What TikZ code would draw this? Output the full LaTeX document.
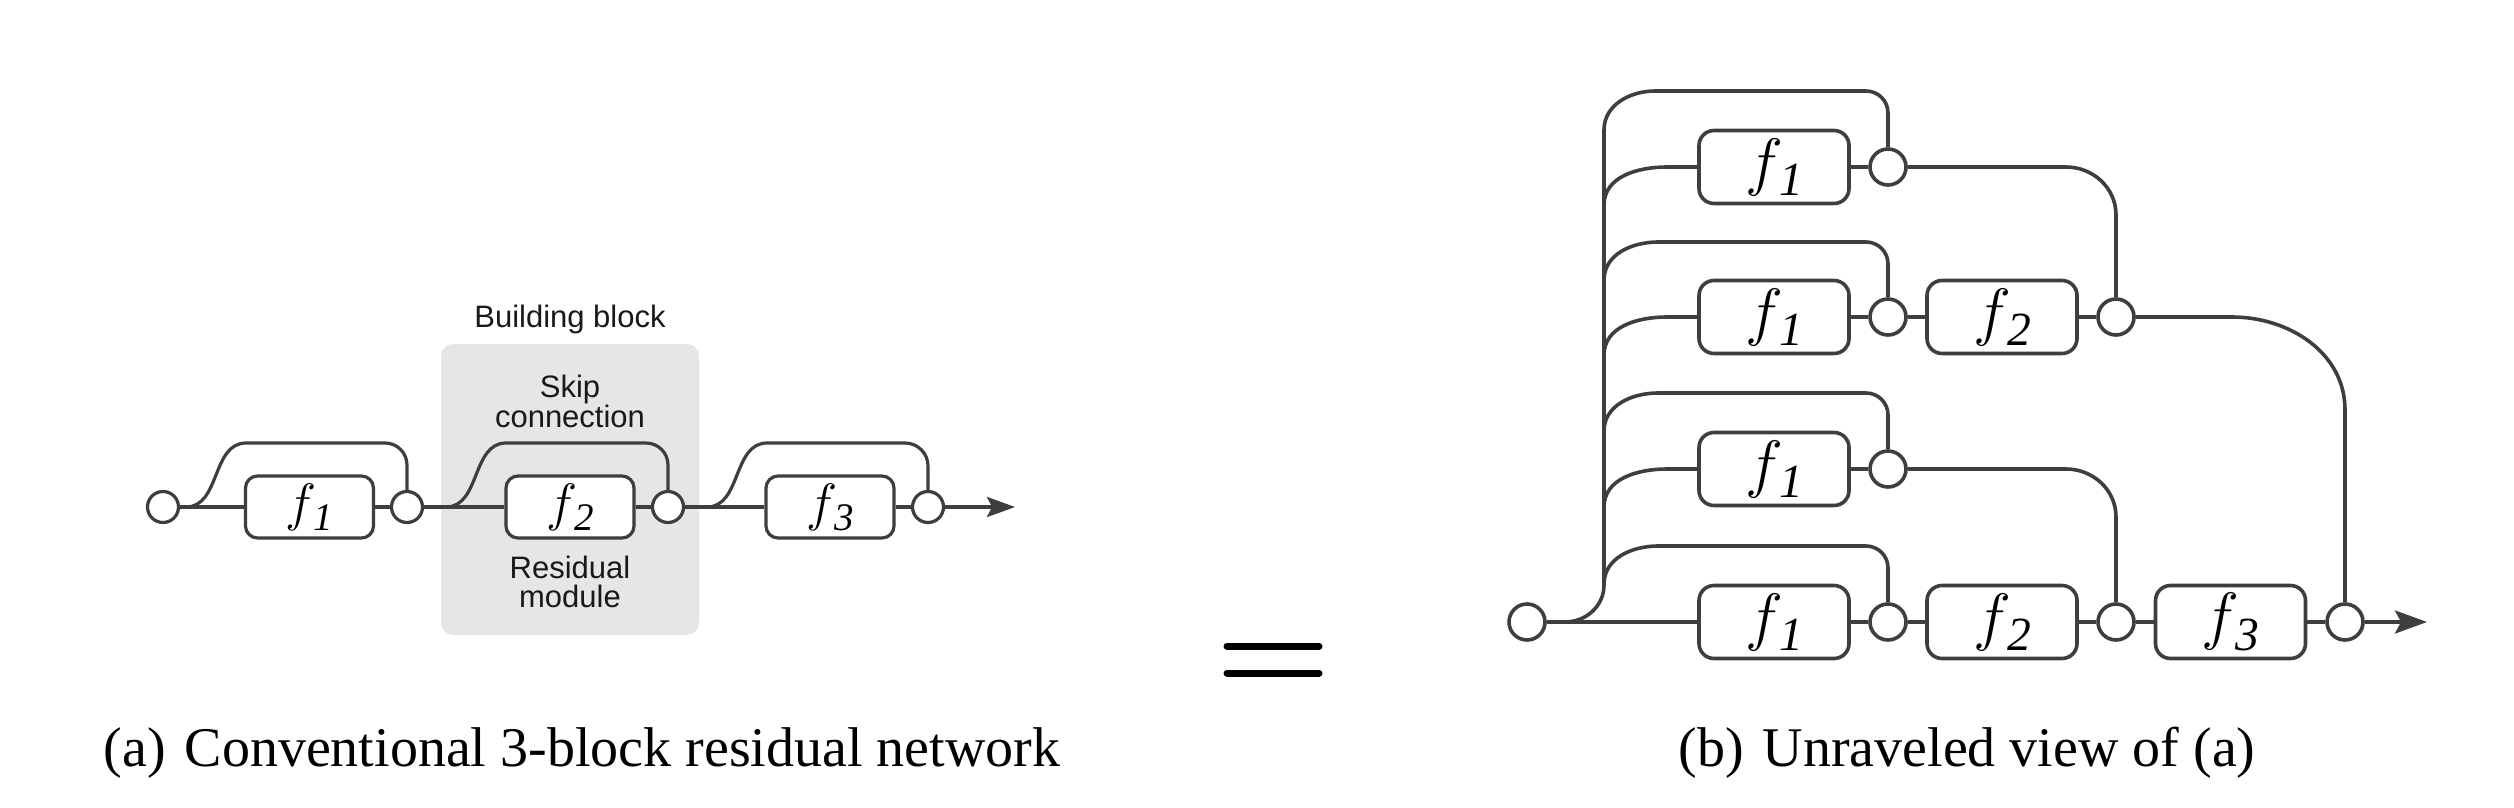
\documentclass[tikz,border=0pt]{standalone}
\usepackage{fontspec}
\setmainfont{Liberation Serif}
\setsansfont{Liberation Sans}
\usepackage{graphicx}
\usetikzlibrary{arrows.meta}
\definecolor{lc}{RGB}{62,62,62}
\definecolor{blockgray}{RGB}{230,230,230}
\newcommand{\fsub}[1]{\resizebox{!}{0.73em}{$f$}\kern-0.06em\raisebox{-0.2em}{\scalebox{0.78}{\itshape #1}}}
\begin{document}
\begin{tikzpicture}[x=1pt,y=-1pt,
  ln/.style={draw=lc, line width=3.2pt},
  lnb/.style={draw=lc, line width=3.6pt},
  fa/.style={draw=lc, fill=white, line width=3.2pt, rounded corners=12pt, minimum width=128pt, minimum height=62pt, inner sep=0pt, font=\fontsize{50}{50}\selectfont},
  fb/.style={draw=lc, fill=white, line width=3.6pt, rounded corners=15pt, minimum width=150pt, minimum height=73pt, inner sep=0pt, font=\fontsize{61}{61}\selectfont},
  sa/.style={circle, draw=lc, fill=white, line width=3.2pt, minimum size=31pt, inner sep=0pt},
  sb/.style={circle, draw=lc, fill=white, line width=3.6pt, minimum size=36pt, inner sep=0pt},
  lbl/.style={font=\fontsize{31}{31}\selectfont\sffamily, anchor=base, text=black!90, inner sep=0pt},
  captext/.style={font=\fontsize{56}{56}\selectfont, anchor=base, inner sep=0pt},
  tipa/.style={-{Stealth[length=28pt,width=20pt,inset=5pt]}},
  tipb/.style={-{Stealth[length=32pt,width=23pt,inset=6pt]}},
  eqbar/.style={line width=7pt, line cap=round, draw=black}
]
\useasboundingbox (0,0) rectangle (2514,808);

% ---------- (a) ----------
\node[fill=blockgray, rounded corners=12pt, minimum width=258pt, minimum height=291pt, inner sep=0pt] (block) at (570,489.5) {};
\node[lbl] (bb) at (570,327) {Building block};
\node[lbl] (sk1) at (570,397) {Skip};
\node[lbl] (sk2) at (570,427) {connection};
\node[lbl] (rm1) at (570,578) {Residual};
\node[lbl] (rm2) at (570,607) {module};

\node[sa] (Ia) at (163,507) {};
\node[fa] (fa1) at (309.5,507) {\fsub{1}};
\node[sa] (ca1) at (407,507) {};
\node[fa] (fa2) at (570,507) {\fsub{2}};
\node[sa] (ca2) at (668,507) {};
\node[fa] (fa3) at (830,507) {\fsub{3}};
\node[sa] (ca3) at (928,507) {};
\coordinate (endA) at (1015,507);

\draw[ln] (Ia) -- (fa1) -- (ca1) -- (fa2) -- (ca2) -- (fa3) -- (ca3);
\draw[ln, tipa] (ca3) -- (endA);
\draw[ln] (Ia) -- (186,507) to[out=0,in=180] (246,443) -- (385,443) to[out=0,in=90] (407,465) -- (ca1);
\draw[ln] (ca1) -- (446,507) to[out=0,in=180] (506,443) -- (646,443) to[out=0,in=90] (668,465) -- (ca2);
\draw[ln] (ca2) -- (707,507) to[out=0,in=180] (767,443) -- (905,443) to[out=0,in=90] (928,466) -- (ca3);

% ---------- equals ----------
\coordinate (e1) at (1227,646);
\coordinate (e2) at (1319,646);
\coordinate (e3) at (1227,673);
\coordinate (e4) at (1319,673);
\draw[eqbar] (e1) -- (e2);
\draw[eqbar] (e3) -- (e4);

% ---------- (b) ----------
\node[sb] (Ib) at (1527,622) {};
\node[fb] (b11) at (1774,167) {\fsub{1}};
\node[sb] (s11) at (1888,167) {};
\node[fb] (b21) at (1774,317) {\fsub{1}};
\node[sb] (s21) at (1888,317) {};
\node[fb] (b22) at (2002,317) {\fsub{2}};
\node[sb] (s22) at (2116,317) {};
\node[fb] (b31) at (1774,469) {\fsub{1}};
\node[sb] (s31) at (1888,469) {};
\node[fb] (b41) at (1774,622) {\fsub{1}};
\node[sb] (s41) at (1888,622) {};
\node[fb] (b42) at (2002,622) {\fsub{2}};
\node[sb] (s42) at (2116,622) {};
\node[fb] (b43) at (2230.5,622) {\fsub{3}};
\node[sb] (s43) at (2345,622) {};
\coordinate (endB) at (2427,622);

% trunk and top skip
\draw[lnb] (Ib) -- (1565,622) to[out=0,in=-90] (1604,585) -- (1604,130) to[out=90,in=180] (1655,91) -- (1866,91) to[out=0,in=90] (1888,113) -- (s11);
% branches
\draw[lnb] (1604,205) to[out=90,in=180] (1667,167) -- (b11);
\draw[lnb] (1604,280) to[out=90,in=180] (1658,242) -- (1866,242) to[out=0,in=90] (1888,264) -- (s21);
\draw[lnb] (1604,355) to[out=90,in=180] (1667,317) -- (b21);
\draw[lnb] (1604,431) to[out=90,in=180] (1658,393) -- (1866,393) to[out=0,in=90] (1888,415) -- (s31);
\draw[lnb] (1604,507) to[out=90,in=180] (1667,469) -- (b31);
\draw[lnb] (1604,584) to[out=90,in=180] (1658,546) -- (1866,546) to[out=0,in=90] (1888,568) -- (s41);
% main lines
\draw[lnb] (b11) -- (s11);
\draw[lnb] (b21) -- (s21) -- (b22) -- (s22);
\draw[lnb] (b31) -- (s31);
\draw[lnb] (Ib) -- (b41) -- (s41) -- (b42) -- (s42) -- (b43) -- (s43);
\draw[lnb, tipb] (s43) -- (endB);
% outputs merging downward
\draw[lnb] (s11) -- (2066,167) to[out=0,in=90] (2116,215) -- (s22);
\draw[lnb] (s22) -- (2232,317) to[out=0,in=90] (2345,410) -- (s43);
\draw[lnb] (s31) -- (2066,469) to[out=0,in=90] (2116,517) -- (s42);

% ---------- captions ----------
\node[captext] (capa) at (582,766) {(a)\hspace{0.34em}Conventional 3-block residual network};
\node[captext] (capb) at (1967,766) {(b)\hspace{0.34em}Unraveled view of (a)};
\end{tikzpicture}
\end{document}
